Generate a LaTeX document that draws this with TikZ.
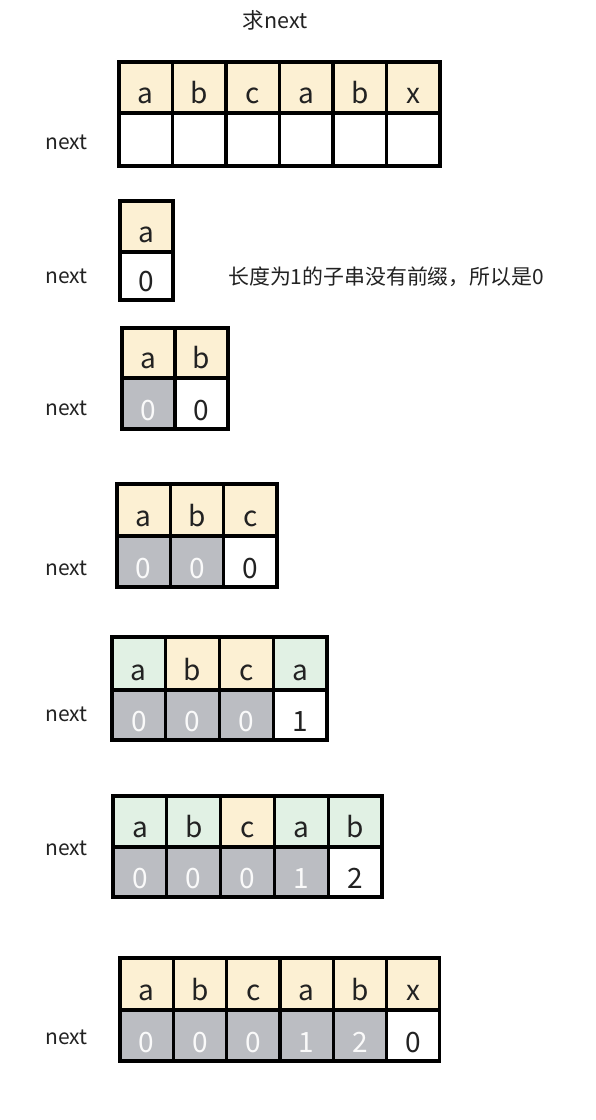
\documentclass[tikz,border=0pt]{standalone}
\usepackage{fontspec}
\setmainfont{Noto Sans CJK SC}
\definecolor{cyel}{RGB}{252,240,211}
\definecolor{cgrn}{RGB}{225,241,228}
\definecolor{cgry}{RGB}{187,189,194}
\definecolor{ctxt}{RGB}{34,34,34}
\definecolor{cwtx}{RGB}{250,250,250}
\tikzset{
  cellbox/.style={draw=black, line width=3.2pt},
  celltxt/.style={anchor=base, inner sep=0pt, font=\fontsize{28}{28}\selectfont},
  lbl/.style={anchor=base west, inner sep=0pt, text=ctxt, font=\fontsize{21}{21}\selectfont}
}
% #1 x0, #2 width, #3 top, #4 mid, #5 bottom, #6 list of {letter/topfill/value/botfill/valcolor}, #7 row name
\newcommand{\kmprow}[7]{%
  \foreach \L/\TF/\V/\BF/\VC [count=\i from 0] in {#6} {
    \pgfmathsetmacro{\xa}{#1+\i*#2}
    \pgfmathsetmacro{\xb}{#1+(\i+1)*#2}
    \pgfmathsetmacro{\xc}{#1+(\i+0.5)*#2}
    \filldraw[cellbox, fill=\TF] (\xa,#3) rectangle (\xb,#4);
    \filldraw[cellbox, fill=\BF] (\xa,#4) rectangle (\xb,#5);
    \node[celltxt, text=ctxt] (#7t\i) at (\xc,#4-10) {\L};
    \node[celltxt, text=\VC] (#7b\i) at (\xc,#5-9) {\V};
  }
}
\begin{document}
\begin{tikzpicture}[x=1pt,y=-1pt]
\useasboundingbox[fill=white] (0,0) rectangle (596,1120);
\node[anchor=base, inner sep=0pt, text=ctxt, font=\fontsize{21.5}{21.5}\selectfont] (title) at (275,28) {求next};

\kmprow{119}{53.5}{62}{113}{166}{a/cyel/ /white/ctxt, b/cyel/ /white/ctxt, c/cyel/ /white/ctxt, a/cyel/ /white/ctxt, b/cyel/ /white/ctxt, x/cyel/ /white/ctxt}{r1}
\node[lbl] (n1) at (45,149) {next};

\kmprow{120}{53}{201}{252}{300}{a/cyel/0/white/ctxt}{r2}
\node[lbl] (n2) at (45,283) {next};
\node[anchor=base west, inner sep=0pt, text=ctxt, font=\fontsize{20.9}{21}\selectfont] (note) at (228,284) {长度为1的子串没有前缀，所以是0};

\kmprow{122}{53}{328}{378}{429}{a/cyel/0/cgry/cwtx, b/cyel/0/white/ctxt}{r3}
\node[lbl] (n3) at (45,415) {next};

\kmprow{117}{53.3}{484}{536}{587}{a/cyel/0/cgry/cwtx, b/cyel/0/cgry/cwtx, c/cyel/0/white/ctxt}{r4}
\node[lbl] (n4) at (45,575) {next};

\kmprow{112}{53.75}{637}{690}{740}{a/cgrn/0/cgry/cwtx, b/cyel/0/cgry/cwtx, c/cyel/0/cgry/cwtx, a/cgrn/1/white/ctxt}{r5}
\node[lbl] (n5) at (45,721) {next};

\kmprow{113}{53.8}{796}{847}{897}{a/cgrn/0/cgry/cwtx, b/cgrn/0/cgry/cwtx, c/cyel/0/cgry/cwtx, a/cgrn/1/cgry/cwtx, b/cgrn/2/white/ctxt}{r6}
\node[lbl] (n6) at (45,855) {next};

\kmprow{120}{53.3}{958}{1010}{1061}{a/cyel/0/cgry/cwtx, b/cyel/0/cgry/cwtx, c/cyel/0/cgry/cwtx, a/cyel/1/cgry/cwtx, b/cyel/2/cgry/cwtx, x/cyel/0/white/ctxt}{r7}
\node[lbl] (n7) at (45,1044) {next};
\end{tikzpicture}
\end{document}
